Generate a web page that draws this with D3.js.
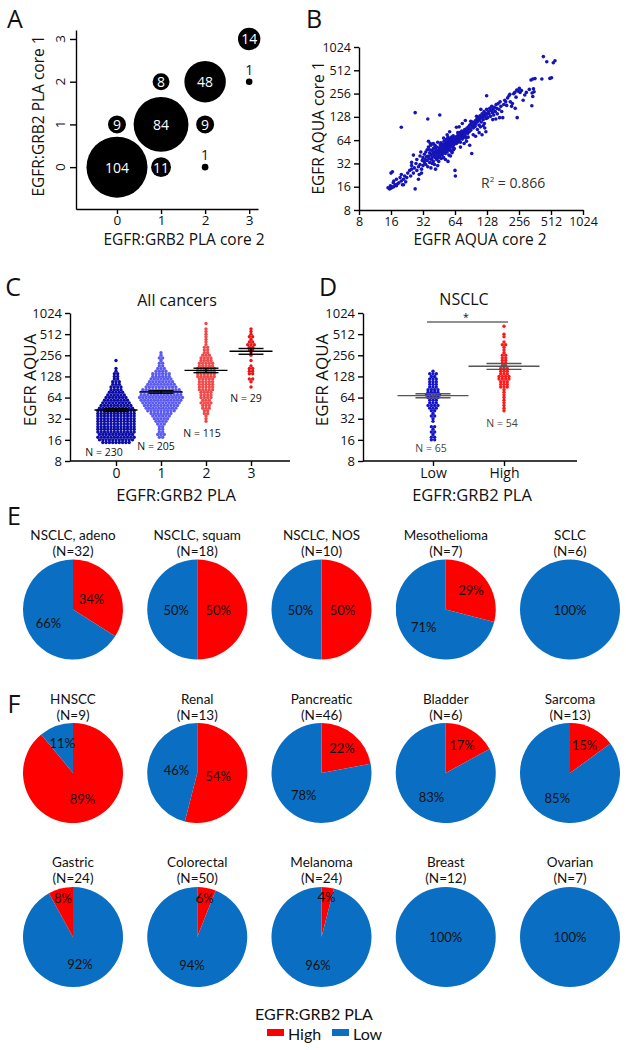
<!DOCTYPE html>
<html><head><meta charset="utf-8">
<script src="https://cdn.jsdelivr.net/npm/d3@7"></script>
<style>body{margin:0;background:#fff} text{font-family:'Open Sans',sans-serif;fill:#111}</style>
</head><body><svg id="c" width="626" height="1050"></svg>
<script>
// ---------- DATA ----------
const aCore2 = [0,1,2,0,1,2,1,2,3,3];
const aCore1 = [0,0,0,1,1,1,2,2,2,3];
const aCount = [104,11,1,9,84,9,8,48,1,14];
const aTicks = [0,1,2,3];
const logTicks = [8,16,32,64,128,256,512,1024];
const bR2 = "0.866";
const bPoints = [
[15,15.5],[15.5,15],[16,15.3],[16.5,15.8],[15.8,16.5],[17,16],[17.5,17],[16.8,18],[18,16.5],[18.5,17.5],[17,19],[16,24],[16.5,25],[18,20],[19,18],[19.5,21],[20,19],[20.5,17],[21,20],[21.5,22],[20,23],[22,18.5],[22.5,21],[23,24],[24,26],[21,17],
[24.5,22],[25,27],[25,30],[26,24],[26.5,28],[27,15],[27.5,32],[28,26],[28,36],[29,29],[29.5,23],[30,31],[30,40],[31,27],[31.5,35],[32,30],[32,38],[26,41],[27,145],[20,94],[25,33],[29,20],[31,24],[30.5,45],
[33,33],[33,42],[33.5,36],[34,31],[34,45],[34.5,39],[35,35],[35,48],[35.5,29],[36,40],[36,52],[36.5,37],[37,33],[37,44],[37.5,58],[38,41],[38,28],[38.5,36],[39,47],[39,38],[39.5,43],[40,34],[40,50],[40.5,40],[41,45],[41,31],[41.5,55],[42,38],[42,42],[42.5,48],[43,36],[43,52],[43.5,44],[44,40],[44,60],[44.5,47],[45,34],[45,43],[45.5,51],[46,39],[46,135],[46,46],[46.5,56],[47,42],[47,49],[47.5,37],[48,53],[48,45],[35.5,120],[36,62],[38,55],[40,58],[42,27],[44,30],[39,32],[37,48],[41,51],[43,47],[45,38],[47,59],
[48.5,41],[49,48],[49,57],[49.5,44],[50,52],[50,38],[50.5,62],[51,47],[51,55],[51.5,50],[52,43],[52,58],[52.5,53],[53,48],[53,65],[53.5,56],[54,45],[54,60],[54.5,51],[55,54],[55,70],[55.5,48],[56,58],[56,63],[56.5,53],[57,50],[57,67],[57.5,56],[58,61],[58,47],[58.5,58],[59,64],[59,54],[59.5,70],[60,57],[60,62],[60.5,52],[61,66],[61,59],[61.5,73],[62,55],[62,63],[62.5,60],[63,68],[63,58],[63.5,64],[64,26],[64.5,22],[64,61],[52,36],[56,41],[60,45],[55,34],[58,40],[62,48],[50,68],[54,75],[57,82],[60,44],[63,50],
[65,62],[65,70],[66,66],[66,58],[67,72],[67,64],[68,68],[68,60],[69,76],[69,66],[70,70],[70,63],[71,74],[71,80],[72,68],[72,60],[73,77],[74,72],[74,84],[75,66],[75,78],[76,74],[77,82],[77,70],[78,76],[79,88],[80,80],[80,72],[81,68],[82,84],[83,92],[84,78],[85,88],[86,95],[87,82],[88,100],[89,90],[90,86],[91,104],[92,43],[93,96],[94,110],[95,92],[96,100],[70,95],[75,105],[78,58],[82,62],[85,70],[88,55],[90,112],[66,94],[72,52],[95,75],[80,115],[68,80],
[98,108],[99,96],[100,115],[101,104],[103,120],[104,88],[105,112],[106,126],[108,100],[109,118],[110,132],[111,95],[112,124],[113,110],[115,140],[116,128],[118,118],[119,135],[120,150],[121,105],[122,130],[124,142],[125,82],[126,122],[127,160],[128,138],[100,72],[108,80],[115,75],[118,98],[127,240],[102,130],[112,160],[122,92],
[130,125],[132,150],[134,140],[136,165],[138,130],[140,155],[142,175],[144,145],[146,160],[148,135],[150,170],[153,150],[156,185],[158,165],[160,140],[163,190],[166,160],[170,200],[173,175],[176,150],[180,125],[184,185],[188,210],[192,200],[196,180],[200,225],[206,240],[212,200],[218,175],[222,190],[228,255],[234,265],[240,230],[246,125],[252,275],[258,300],[244,285],[262,265],[236,165],[210,250],[168,125],[155,120],[145,118],
[270,280],[280,210],[300,265],[320,290],[340,260],[350,295],[338,178],[345,235],[332,383],[345,395],[362,400],[420,395],[500,402],[518,410],[434,770],[467,660],[538,640],[558,680],[290,245],[355,270]
];
// panel C: [log2(EGFR AQUA) row, number of dots] per PLA group
const cGroups = ["0","1","2","3"];
const cN = [230,205,115,29];
const cBins0 = [[3.875,9],[4,11],[4.125,12],[4.25,11],[4.375,12],[4.5,12],[4.625,12],[4.75,12],[4.875,12],[5,12],[5.125,12],[5.25,12],[5.375,12],[5.5,11],[5.625,10],[5.75,9],[5.875,8],[6,7],[6.125,6],[6.25,5],[6.375,4],[6.5,4],[6.625,3],[6.75,3],[6.875,2],[7,2],[7.125,2],[7.25,1],[7.375,1],[7.75,1]];
const cBins1 = [[4.125,2],[4.25,3],[4.375,2],[4.5,2],[4.625,2],[4.75,3],[4.875,4],[5,5],[5.125,6],[5.25,7],[5.375,9],[5.5,10],[5.625,11],[5.75,12],[5.875,13],[6,14],[6.125,13],[6.25,13],[6.375,12],[6.5,10],[6.625,9],[6.75,8],[6.875,7],[7,6],[7.125,6],[7.25,4],[7.375,3],[7.5,2],[7.625,2],[7.75,1],[7.875,2],[8,1],[8.125,1]];
const cBins2 = [[4.875,1],[5,1],[5.125,1],[5.25,2],[5.375,2],[5.5,3],[5.625,3],[5.75,4],[5.875,3],[6,4],[6.125,4],[6.25,4],[6.375,5],[6.5,5],[6.625,5],[6.75,5],[6.875,5],[7,6],[7.125,6],[7.25,6],[7.375,6],[7.5,5],[7.625,5],[7.75,4],[7.875,4],[8,3],[8.125,2],[8.25,2],[8.375,2],[8.5,1],[8.625,1],[8.75,1],[8.875,1],[9,1],[9.125,1],[9.25,1],[9.5,1]];
const cBins3 = [[6.5,1],[6.75,1],[6.875,2],[7.125,2],[7.25,2],[7.375,2],[7.5,1],[7.75,1],[8,1],[8.125,1],[8.25,2],[8.375,2],[8.5,3],[8.625,2],[8.75,1],[8.875,2],[9,1],[9.125,1],[9.25,1]];
const cColors = ["#0c0ca6","#5b5bf2","#f04a4a","#ee1414"];
// panel D
const dGroups = ["Low","High"];
const dN = [65,54];
const dBinsLow = [[4,2],[4.125,2],[4.25,1],[4.375,2],[4.5,1],[4.625,2],[4.875,1],[5,1],[5.125,2],[5.25,1],[5.375,2],[5.5,3],[5.625,4],[5.75,3],[5.875,3],[6,4],[6.125,5],[6.25,4],[6.375,4],[6.5,3],[6.625,3],[6.75,3],[6.875,3],[7,2],[7.125,3],[7.25,1]];
const dBinsHigh = [[5.375,1],[5.5,1],[5.625,1],[5.75,1],[5.875,1],[6,1],[6.125,1],[6.25,1],[6.375,1],[6.5,3],[6.625,3],[6.75,3],[6.875,4],[7,4],[7.125,3],[7.25,3],[7.375,3],[7.5,2],[7.625,2],[7.75,2],[7.875,2],[8,2],[8.125,1],[8.25,1],[8.375,1],[8.5,2],[8.625,1],[8.875,1],[9,1],[9.375,1]];
const dColors = ["#1515c8","#ff1a1a"];
// panels E/F: percent High per tumour type
const eNames = ["NSCLC, adeno","NSCLC, squam","NSCLC, NOS","Mesothelioma","SCLC"];
const eN = [32,18,10,7,6];
const eHigh = [34,50,50,29,0];
const f1Names = ["HNSCC","Renal","Pancreatic","Bladder","Sarcoma"];
const f1N = [9,13,46,6,13];
const f1High = [89,54,22,17,15];
const f2Names = ["Gastric","Colorectal","Melanoma","Breast","Ovarian"];
const f2N = [24,50,24,12,7];
const f2High = [8,6,4,0,0];
const f2HighFirst = [false,true,true,true,true];
const pieColors = {High:"#ff0000", Low:"#0a6fc2"};
const legendKeys = ["High","Low"];

// ---------- DRAW ----------
const svg = d3.select("#c");
svg.append("rect").attr("width",626).attr("height",1050).attr("fill","#fff");

function panelLabel(t,x,y){svg.append("text").attr("x",x).attr("y",y).attr("font-size",25).attr("text-anchor","middle").attr("dominant-baseline","central").text(t);}
function txt(g,x,y,s,size,opt={}){
  const t=g.append("text").attr("x",x).attr("y",y).attr("font-size",size).attr("text-anchor",opt.anchor||"middle").attr("dominant-baseline","central").text(s);
  if(opt.rot) t.attr("transform",`rotate(-90,${x},${y})`);
  if(opt.fill) t.style("fill",opt.fill);
  if(opt.family) t.style("font-family",opt.family);
  return t;
}
function styleAxis(g,fs){
  g.selectAll("path,line").attr("stroke","#000").attr("stroke-width",1.4);
  g.selectAll("text").attr("font-size",fs).style("fill","#111").attr("font-family","'Open Sans',sans-serif");
}

// Panel A
panelLabel("A",15,18);
const xA = d3.scaleLinear().domain([-0.93,3.2]).range([76,258]);
const yA = d3.scaleLinear().domain([-0.98,3.21]).range([209,30]);
const rA = d3.scaleSqrt().domain([0,104]).range([0,30.5]);
const gA = svg.append("g");
const axA = gA.append("g").attr("transform","translate(0,209)").call(d3.axisBottom(xA).tickValues(aTicks).tickFormat(d3.format("d")).tickSize(5).tickSizeOuter(0).tickPadding(1));
styleAxis(axA,13.5);
const ayA = gA.append("g").attr("transform","translate(76,0)").call(d3.axisLeft(yA).tickValues(aTicks).tickSize(6).tickSizeOuter(0));
styleAxis(ayA,13.5); ayA.selectAll("text").remove();
aTicks.forEach(t=>txt(gA,60,yA(t),t,13.5,{rot:true}));
aCount.forEach((n,i)=>{
  const cx=xA(aCore2[i]), cy=yA(aCore1[i]), r=Math.max(rA(n),3.3);
  gA.append("circle").attr("cx",cx).attr("cy",cy).attr("r",r).attr("fill","#000");
  if(n>1) txt(gA,cx,cy,n,14,{fill:"#fff"});
  else txt(gA,cx,cy-r-9,n,14);
});
txt(gA,184,239,"EGFR:GRB2 PLA core 2",15.5);
txt(gA,38,116,"EGFR:GRB2 PLA core 1",15.5,{rot:true});

// Panel B
panelLabel("B",314,18);
const xB = d3.scaleLog().base(2).domain([8,1024]).range([359,583]);
const yB = d3.scaleLog().base(2).domain([8,1024]).range([210,47]);
const gB = svg.append("g");
const axB = gB.append("g").attr("transform","translate(0,210)").call(d3.axisBottom(xB).tickValues(logTicks).tickFormat(d3.format("d")).tickSize(5).tickSizeOuter(0).tickPadding(2));
styleAxis(axB,12.5);
const ayB = gB.append("g").attr("transform","translate(359,0)").call(d3.axisLeft(yB).tickValues(logTicks).tickFormat(d3.format("d")).tickSize(5).tickSizeOuter(0).tickPadding(3));
styleAxis(ayB,12.5);
gB.selectAll("circle.p").data(bPoints).enter().append("circle").attr("cx",d=>xB(d[0])).attr("cy",d=>yB(d[1])).attr("r",1.8).attr("fill","#1414b8");
const r2 = gB.append("text").attr("x",481).attr("y",188).attr("font-size",14).style("fill","#333");
r2.append("tspan").text("R");
r2.append("tspan").attr("font-size",8).attr("dy",-6).text("2");
r2.append("tspan").attr("dy",6).text(" = "+bR2);
txt(gB,480,239,"EGFR AQUA core 2",15.5);
txt(gB,318,128,"EGFR AQUA core 1",15.5,{rot:true});

// Swarm helper
function expand(bins){const v=[];bins.forEach(([l,n])=>{for(let i=0;i<n;i++)v.push(Math.pow(2,l));});return v;}
function swarm(g,bins,cx,y,color,sp){
  bins.forEach(([l,n])=>{
    const yy=y(Math.pow(2,l));
    for(let i=0;i<n;i++) g.append("circle").attr("cx",cx+(i-(n-1)/2)*sp).attr("cy",yy).attr("r",1.7).attr("fill",color);
  });
}
function meanSem(g,vals,cx,y,wMean,wSem,color){
  const m=d3.mean(vals), s=d3.deviation(vals)/Math.sqrt(vals.length);
  const ln=(x1,y1,x2,y2)=>g.append("line").attr("x1",x1).attr("y1",y1).attr("x2",x2).attr("y2",y2).attr("stroke",color).attr("stroke-width",1.4);
  ln(cx-wMean/2,y(m),cx+wMean/2,y(m));
  ln(cx-wSem/2,y(m+s),cx+wSem/2,y(m+s));
  ln(cx-wSem/2,y(m-s),cx+wSem/2,y(m-s));
  ln(cx,y(m+s),cx,y(m-s));
}

// Panel C
panelLabel("C",13,286);
const yC = d3.scaleLog().base(2).domain([8,1024]).range([461,313]);
const xC = d3.scalePoint().domain(cGroups).range([116,251]);
const gC = svg.append("g");
const ayC = gC.append("g").attr("transform","translate(70,0)").call(d3.axisLeft(yC).tickValues(logTicks).tickFormat(d3.format("d")).tickSize(5).tickSizeOuter(0).tickPadding(3));
styleAxis(ayC,13);
const axC = gC.append("g").attr("transform","translate(0,461)").call(d3.axisBottom(xC).tickSize(5).tickSizeOuter(0).tickPadding(2));
styleAxis(axC,14); axC.select(".domain").remove();
gC.append("line").attr("x1",70).attr("x2",290).attr("y1",461).attr("y2",461).attr("stroke","#000").attr("stroke-width",1.4);
const cBins=[cBins0,cBins1,cBins2,cBins3];
cBins.forEach((b,i)=>swarm(gC,b,xC(cGroups[i]),yC,cColors[i],3.3));
cBins.forEach((b,i)=>meanSem(gC,expand(b),xC(cGroups[i]),yC,43,25,"#000"));
const cNpos=[[104,452],[156,446],[202,433],[246,398]];
cN.forEach((n,i)=>txt(gC,cNpos[i][0],cNpos[i][1],"N = "+n,10.5));
txt(gC,177,300,"All cancers",16);
txt(gC,176,494,"EGFR:GRB2 PLA",16.5);
txt(gC,29,380,"EGFR AQUA",17,{rot:true});

// Panel D
panelLabel("D",328,286);
const yD = d3.scaleLog().base(2).domain([8,1024]).range([461,313]);
const xD = d3.scalePoint().domain(dGroups).range([433,504]);
const gD = svg.append("g");
const ayD = gD.append("g").attr("transform","translate(363,0)").call(d3.axisLeft(yD).tickValues(logTicks).tickFormat(d3.format("d")).tickSize(5).tickSizeOuter(0).tickPadding(3));
styleAxis(ayD,13);
const axD = gD.append("g").attr("transform","translate(0,461)").call(d3.axisBottom(xD).tickSize(5).tickSizeOuter(0).tickPadding(2));
styleAxis(axD,14); axD.select(".domain").remove();
gD.append("line").attr("x1",363).attr("x2",577).attr("y1",461).attr("y2",461).attr("stroke","#000").attr("stroke-width",1.4);
const dBins=[dBinsLow,dBinsHigh];
dBins.forEach((b,i)=>swarm(gD,b,xD(dGroups[i]),yD,dColors[i],3.3));
dBins.forEach((b,i)=>meanSem(gD,expand(b),xD(dGroups[i]),yD,71,35,"#555"));
gD.append("line").attr("x1",427).attr("x2",508).attr("y1",322).attr("y2",322).attr("stroke","#222").attr("stroke-width",1.2);
txt(gD,466,317,"*",10.5);
const dNpos=[[431,448],[502,423]];
dN.forEach((n,i)=>txt(gD,dNpos[i][0],dNpos[i][1],"N = "+n,10.5,{fill:"#444"}));
txt(gD,464,299,"NSCLC",16);
txt(gD,472,494,"EGFR:GRB2 PLA",16.5);
txt(gD,321,380,"EGFR AQUA",17,{rot:true});

// Pies
const pieX = d3.scaleLinear().domain([0,4]).range([73,570]);
const PR = 50;
function pieRow(names,ns,highs,highFirst,titleY,cy){
  const g=svg.append("g");
  names.forEach((nm,i)=>{
    const cx=pieX(i);
    txt(g,cx,titleY,nm,13.5,{family:"Lato"});
    txt(g,cx,titleY+16,"(N="+ns[i]+")",13.5,{family:"Lato"});
    let slices=[{k:"High",v:highs[i]},{k:"Low",v:100-highs[i]}];
    if(highFirst && !highFirst[i]) slices=slices.reverse();
    const arcs=d3.pie().sort(null).value(d=>d.v)(slices);
    const pg=g.append("g").attr("transform",`translate(${cx},${cy})`);
    pg.selectAll("path").data(arcs).enter().append("path").attr("d",d3.arc().innerRadius(0).outerRadius(PR)).attr("fill",d=>pieColors[d.data.k]);
    arcs.forEach(a=>{
      const p=a.data.v; if(p===0) return;
      let pos=[0,0];
      if(p<100){const f=p<10?0.8:p<30?0.64:p>60?0.56:0.42; pos=d3.arc().innerRadius(PR*f).outerRadius(PR*f).centroid(a);}
      txt(pg,pos[0],pos[1],p+"%",13,{family:"Lato"});
    });
  });
}
panelLabel("E",14,515);
pieRow(eNames,eN,eHigh,null,535,609.5);
panelLabel("F",14,703);
pieRow(f1Names,f1N,f1High,null,699,773);
pieRow(f2Names,f2N,f2High,f2HighFirst,862,937);

// Legend
const gL=svg.append("g");
txt(gL,314,1013,"EGFR:GRB2 PLA",16,{family:"Lato"});
const lx=[267,332];
legendKeys.forEach((k,i)=>{
  gL.append("rect").attr("x",lx[i]).attr("y",1029).attr("width",17).attr("height",7).attr("fill",pieColors[k]);
  txt(gL,lx[i]+21,1033,k,16,{anchor:"start",family:"Lato"});
});
</script></body></html>
